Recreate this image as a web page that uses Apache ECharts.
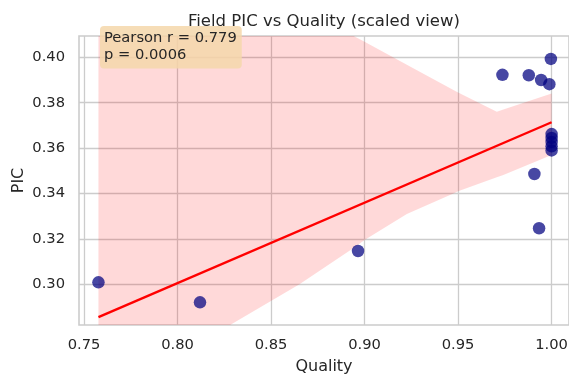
<!DOCTYPE html>
<html>
<head>
<meta charset="utf-8">
<script src="https://cdn.jsdelivr.net/npm/echarts@6/dist/echarts.min.js"></script>
<style>
html,body{margin:0;padding:0;background:#fff;}
#chart{width:569px;height:374px;}
</style>
</head>
<body>
<div id="chart"></div>
<script>
// Scatter data
const qualityVals = [0.7577, 0.8120, 0.8965, 0.9737, 0.9878, 0.9944, 0.9988, 0.9996, 1.0000, 1.0000, 1.0000, 1.0000, 1.0000, 0.9908, 0.9933];
const picVals     = [0.3009, 0.2921, 0.3147, 0.3923, 0.3921, 0.3900, 0.3882, 0.3993, 0.3662, 0.3645, 0.3627, 0.3608, 0.3590, 0.3486, 0.3247];

// Regression line end points
const fitX = [0.7577, 1.0000];
const fitY = [0.2856, 0.3714];

// Confidence band
const bandX     = [0.7577, 0.8281, 0.8652, 0.8949, 0.9000, 0.9226, 0.9475, 0.9500, 0.9707, 0.9742, 1.0000];
const bandUpper = [0.4700, 0.4400, 0.4220, 0.4091, 0.4069, 0.3967, 0.3856, 0.3845, 0.3760, 0.3770, 0.3841];
const bandLower = [0.2450, 0.2821, 0.3000, 0.3165, 0.3195, 0.3310, 0.3400, 0.3410, 0.3472, 0.3482, 0.3570];

// Tick labels
const xTicks = [0.75, 0.80, 0.85, 0.90, 0.95, 1.00];
const yTicks = [0.30, 0.32, 0.34, 0.36, 0.38, 0.40];

const titleText = 'Field PIC vs Quality (scaled view)';
const statText = 'Pearson r = 0.779\np = 0.0006';

const FONT = 'DejaVu Sans';
const TXT = '#262626';
const GRIDC = '#cccccc';

const chart = echarts.init(document.getElementById('chart'), null, {renderer: 'canvas'});

const option = {
  animation: false,
  backgroundColor: '#ffffff',
  textStyle: {fontFamily: FONT},
  title: {
    text: titleText,
    left: 188,
    top: 13,
    padding: 0,
    textStyle: {fontFamily: FONT, fontSize: 16.5, fontWeight: 'normal', color: TXT}
  },
  grid: {
    left: 79, right: 0, top: 36, bottom: 49,
    show: true, borderColor: GRIDC, borderWidth: 1.6,
    containLabel: false, outerBoundsMode: 'none'
  },
  xAxis: {
    type: 'value',
    min: 0.7473, max: 1.0093,
    name: 'Quality',
    nameLocation: 'middle',
    nameGap: 34,
    nameTextStyle: {fontFamily: FONT, fontSize: 16, color: TXT},
    axisLine: {show: false},
    axisTick: {show: false, customValues: xTicks},
    axisLabel: {
      customValues: xTicks,
      margin: 13,
      fontFamily: FONT, fontSize: 14.7, color: TXT,
      formatter: v => v.toFixed(2)
    },
    splitLine: {show: true, lineStyle: {color: GRIDC, width: 1.3}}
  },
  yAxis: {
    type: 'value',
    min: 0.2821, max: 0.4094,
    name: 'PIC',
    nameLocation: 'middle',
    nameGap: 52,
    nameMoveOverlap: false,
    nameRotate: 90,
    nameTextStyle: {fontFamily: FONT, fontSize: 16, color: TXT},
    axisLine: {show: false},
    axisTick: {show: false, customValues: yTicks},
    axisLabel: {
      customValues: yTicks,
      margin: 14,
      fontFamily: FONT, fontSize: 14.7, color: TXT,
      formatter: v => v.toFixed(2)
    },
    splitLine: {show: true, lineStyle: {color: GRIDC, width: 1.3}}
  },
  series: [
    {
      type: 'custom',
      clip: true,
      z: 1,
      silent: true,
      data: [[bandX[0], bandLower[0]]],
      encode: {x: 0, y: 1},
      renderItem: function (params, api) {
        const pts = [];
        for (let i = 0; i < bandX.length; i++) pts.push(api.coord([bandX[i], bandUpper[i]]));
        for (let i = bandX.length - 1; i >= 0; i--) pts.push(api.coord([bandX[i], bandLower[i]]));
        return {
          type: 'polygon',
          shape: {points: pts},
          style: {fill: 'rgba(255,0,0,0.15)', stroke: 'none'}
        };
      }
    },
    {
      type: 'line',
      z: 2,
      data: fitX.map((x, i) => [x, fitY[i]]),
      showSymbol: false,
      symbol: 'none',
      lineStyle: {color: '#ff0000', width: 2.4},
      silent: true
    },
    {
      type: 'scatter',
      z: 3,
      data: qualityVals.map((x, i) => [x, picVals[i]]),
      symbolSize: 12.5,
      itemStyle: {color: 'rgba(0,0,128,0.9)'}
    }
  ],
  graphic: [
    {
      type: 'text',
      left: 100,
      top: 26,
      z: 100,
      style: {
        text: statText,
        font: '14.7px "DejaVu Sans"',
        lineHeight: 16.7,
        fill: TXT,
        backgroundColor: 'rgba(245,215,170,0.85)',
        padding: [4, 5, 5, 4],
        borderRadius: 4
      }
    }
  ]
};

chart.setOption(option);
</script>
</body>
</html>
